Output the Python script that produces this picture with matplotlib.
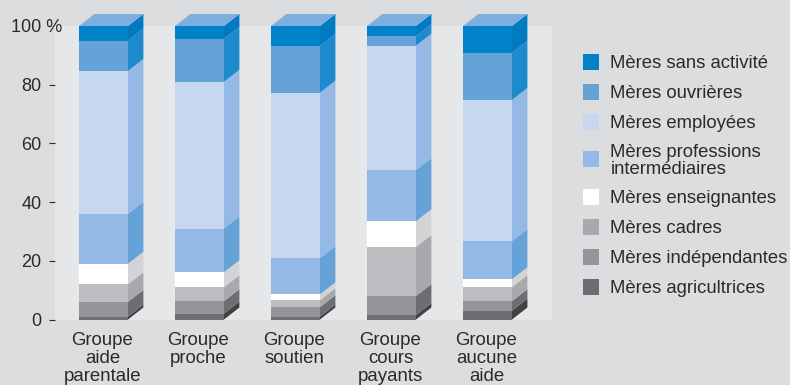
#!/usr/bin/env python3
import numpy as np
import matplotlib
matplotlib.use("Agg")
import matplotlib.pyplot as plt
from matplotlib.patches import Rectangle

plt.rcParams['font.family'] = ['Liberation Sans', 'DejaVu Sans']

groupes = ["Groupe\naide\nparentale", "Groupe\nproche", "Groupe\nsoutien",
           "Groupe\ncours\npayants", "Groupe\naucune\naide"]

# parts cumulées, du bas vers le haut de chaque barre
agricultrices = [1, 2, 1, 1.5, 3]
independantes = [5, 4.2, 3.2, 6.5, 3.2]
cadres = [6, 4.8, 2.4, 16.7, 4.8]
enseignantes = [7, 5.1, 2, 8.8, 2.7]
intermediaires = [17, 14.9, 12.3, 17.4, 13]
employees = [48.7, 50, 56.4, 42.4, 48.1]
ouvrieres = [10.3, 14.6, 15.9, 3.3, 16]
sans_activite = [5, 4.4, 6.8, 3.4, 9.2]

series = [agricultrices, independantes, cadres, enseignantes,
          intermediaires, employees, ouvrieres, sans_activite]
couleurs = ["#6d6e71", "#939598", "#bcbdc0", "#ffffff",
            "#94b9e4", "#c6d8f0", "#64a2d8", "#0082c8"]
cotes = ["#414042", "#6d6e71", "#a7a9ac", "#d2d3d5",
         "#64a2d8", "#94b9e4", "#1e8ace", "#007bc2"]
dessus = "#7daedd"

legende = ["Mères sans activité", "Mères ouvrières", "Mères employées",
           "Mères professions\nintermédiaires", "Mères enseignantes",
           "Mères cadres", "Mères indépendantes", "Mères agricultrices"]
legende_y = [62, 92, 122, 159, 197, 227, 257, 287]
legende_coul = ["#0082c8", "#64a2d8", "#c6d8f0", "#94b9e4", "#ffffff",
                "#a7a9ac", "#939598", "#6d6e71"]

W, H = 790, 385
texte = "#2b2a2b"

fig = plt.figure(figsize=(W / 100, H / 100), dpi=100, facecolor="#dcdddf")
ax = fig.add_axes([55 / W, 1 - 319.5 / H, 497 / W, 293.5 / H], facecolor="#e6e7e9")

x = np.arange(len(groupes))
larg = 49 / 96
dx = 15.4 / 96
dy = 12 / 2.935

bas = np.zeros(len(groupes))
for vals, c, cs in zip(series, couleurs, cotes):
    vals = np.array(vals)
    ax.bar(x, vals, larg, bottom=bas, color=c, linewidth=0, zorder=3)
    # face de côté de chaque segment
    for xi, b, v in zip(x, bas, vals):
        xr = xi + larg / 2
        ax.fill([xr, xr + dx, xr + dx, xr], [b, b + dy, b + v + dy, b + v],
                color=cs, linewidth=0, zorder=3, clip_on=False)
    bas = bas + vals

# dessus des barres
for xi, t in zip(x, bas):
    xl, xr = xi - larg / 2, xi + larg / 2
    ax.fill([xl, xr, xr + dx, xl + dx], [t, t, t + dy, t + dy],
            color=dessus, linewidth=0, zorder=3, clip_on=False)

ax.set_xlim(-48.5 / 96, 448.5 / 96)
ax.set_ylim(0, 100)
for s in ax.spines.values():
    s.set_visible(False)

ax.set_yticks([0, 20, 40, 60, 80])
ax.tick_params(axis="y", length=4.3, width=0.8, color=texte, pad=5.6,
               labelsize=13, labelcolor=texte)
ax.set_xticks(x - 1 / 96)
ax.set_xticklabels(groupes, fontsize=13.4, color=texte, linespacing=1.08)
ax.tick_params(axis="x", length=0, pad=9.2)
ax.text(11 / W, 1 - 27 / H, "100 %", transform=fig.transFigure, fontsize=13,
        color=texte, va="center", ha="left", zorder=5)

# légende à droite
for nom, y, c in zip(legende, legende_y, legende_coul):
    fig.patches.append(Rectangle((583 / W, 1 - (y + 8) / H), 16 / W, 16 / H,
                                 transform=fig.transFigure, facecolor=c,
                                 linewidth=0, figure=fig))
    fig.text(610.5 / W, 1 - (y + 1.8) / H, nom, fontsize=13.3, color=texte,
             va="center", ha="left", linespacing=1.02)

fig.savefig("out.png", dpi=100, facecolor=fig.get_facecolor())
